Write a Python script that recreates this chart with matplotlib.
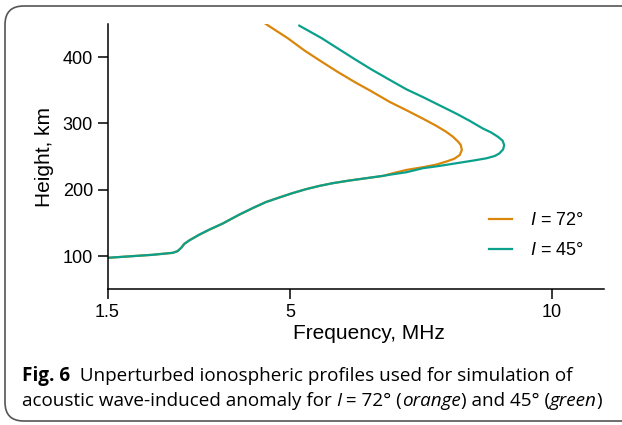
import matplotlib
matplotlib.use("Agg")
from matplotlib import pyplot as plt
from matplotlib.patches import FancyBboxPatch

# shared bottomside of both profiles (freq MHz, height km)
low_freq = [1.53, 1.98, 2.36, 2.75, 2.84, 2.91, 2.97, 3.07, 3.26, 3.45, 3.70, 4.02,
            4.28, 4.53, 4.79, 5.04, 5.30, 5.56, 5.81, 6.13, 6.45, 6.77]
low_height = [97.6, 100, 102, 105, 107.5, 112.5, 118.5, 124, 132.5, 140, 149, 162.5,
              172.5, 181.5, 188.5, 195, 201, 206, 210, 214, 217.5, 221]

# upper part, I = 72 deg (orange)
i72_freq = [6.96, 7.22, 7.53, 7.79, 7.98, 8.14, 8.24, 8.28, 8.26, 8.21, 8.11, 7.98,
            7.79, 7.53, 7.22, 6.90, 6.55, 6.23, 5.91, 5.59, 5.27, 4.95, 4.53]
i72_height = [225, 230, 234, 238, 242.5, 247, 252.5, 260, 267.5, 272.5, 280, 287.5,
              296.5, 307.5, 320, 332.5, 348.5, 362.5, 377.5, 393.5, 410, 428.5, 450]

# upper part, I = 45 deg (green)
i45_freq = [6.92, 7.22, 7.53, 7.85, 8.17, 8.49, 8.75, 8.91, 9.00, 9.07, 9.09, 9.06,
            8.97, 8.84, 8.68, 8.43, 8.17, 7.85, 7.53, 7.22, 6.95, 6.55, 6.23, 5.91,
            5.59, 5.17]
i45_height = [223, 226.5, 232.5, 236, 240, 244, 247.5, 251, 255, 261, 267.5, 274,
              280, 286.5, 292.5, 304, 315, 327.5, 340, 351.5, 363.5, 381.5, 397, 413,
              429, 447.5]

xticks = [1.5, 5, 10]
xticklabels = ["1.5", "5", "10"]
yticks = [100, 200, 300, 400]

orange = "#D9860B"
green = "#0AA08C"

plt.rcParams["font.family"] = ["Liberation Sans", "DejaVu Sans"]
plt.rcParams["mathtext.fontset"] = "custom"
plt.rcParams["mathtext.rm"] = "Liberation Sans"
plt.rcParams["mathtext.it"] = "Liberation Sans:italic"

W, H = 622, 425
fig = plt.figure(figsize=(W / 100, H / 100), dpi=100)

# rounded frame around figure + caption
frame = FancyBboxPatch((5 / W, 4 / H), 640 / W, 415 / H,
                       boxstyle="round,pad=0,rounding_size=0.03",
                       transform=fig.transFigure, fill=False,
                       edgecolor="#555555", linewidth=1.2, mutation_aspect=W / H)
fig.patches.append(frame)

ax = fig.add_axes([107.5 / W, 135.7 / H, 496.5 / W, 265.3 / H])
ax.plot(low_freq + i72_freq, low_height + i72_height, color=orange, lw=1.6,
        label="$I$ = 72°")
ax.plot(low_freq + i45_freq, low_height + i45_height, color=green, lw=1.6,
        label="$I$ = 45°")

ax.set_xlim(1.5, 11.0)
ax.set_ylim(50, 450)
ax.set_xticks(xticks)
ax.set_xticklabels(xticklabels)
ax.set_yticks(yticks)
for s in ["top", "right"]:
    ax.spines[s].set_visible(False)
for s in ["left", "bottom"]:
    ax.spines[s].set_linewidth(1.1)
ax.tick_params(direction="out", length=7.5, width=1.1, labelsize=13, pad=3)

ax.set_xlabel("Frequency, MHz", fontsize=15)
ax.set_ylabel("Height, km", fontsize=15)
ax.xaxis.set_label_coords(0.527, -0.13)
ax.yaxis.set_label_coords(-0.108, 0.5)

ax.legend(loc="center left", bbox_to_anchor=(0.768, 0.203), frameon=False,
          fontsize=13, handlelength=1.3, handletextpad=1.0, labelspacing=0.72,
          borderpad=0, borderaxespad=0)

# caption, drawn as runs of text so italics can be mixed in
fig.canvas.draw()
renderer = fig.canvas.get_renderer()
cap_font = "Open Sans"
cap_size = 13.6


def draw_runs(x, y, runs):
    for txt, kw in runs:
        t = fig.text(x / W, 1 - y / H, txt, fontsize=cap_size, family=cap_font,
                     va="baseline", ha="left", **kw)
        x += t.get_window_extent(renderer).width


draw_runs(21.5, 381, [("Fig. 6", dict(weight="bold")),
                      ("  Unperturbed ionospheric profiles used for simulation of", {})])
draw_runs(21.5, 406, [("acoustic wave-induced anomaly for ", {}),
                      ("I", dict(style="italic")),
                      (" = 72° (", {}),
                      ("orange", dict(style="italic")),
                      (") and 45° (", {}),
                      ("green", dict(style="italic")),
                      (")", {})])

fig.savefig("out.png", dpi=100)
